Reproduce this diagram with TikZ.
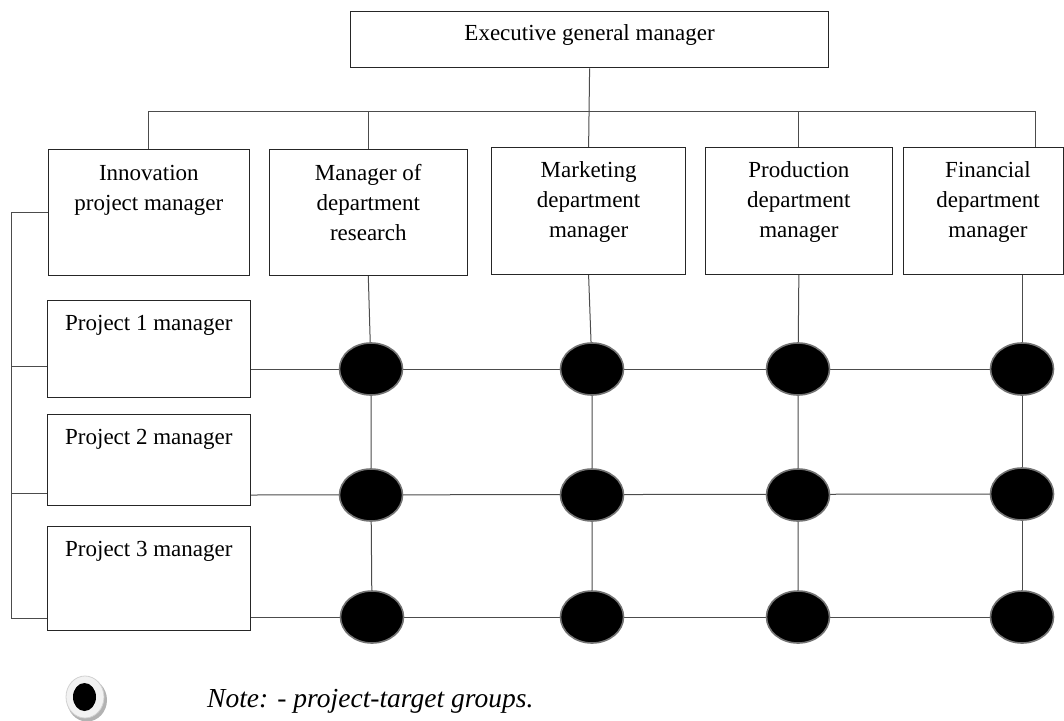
\documentclass[tikz,border=0pt]{standalone}
\usepackage{fontspec}
\setmainfont{Liberation Serif}
\usetikzlibrary{shapes.geometric}
\pgfdeclarelayer{bg}
\pgfsetlayers{bg,main}
\begin{document}
\begin{tikzpicture}[x=1pt,y=-1pt,
  box/.style={draw=black!85, line width=1.2pt, fill=white, inner sep=0pt, anchor=north west},
  lbl/.style={font=\fontsize{23}{30}\selectfont, align=center, inner sep=0pt, anchor=north},
  conn/.style={draw=black!70, line width=1pt},
  dot/.style={ellipse, fill=black, draw=black!55, line width=1.6pt, minimum width=63pt, minimum height=52pt, inner sep=0pt}]
\useasboundingbox (0,0) rectangle (1064,720);

% boxes
\node[box, minimum width=478pt, minimum height=56.5pt] (top) at (350,10.7) {};
\node[box, minimum width=201.5pt, minimum height=126pt] (inn) at (47.5,149) {};
\node[box, minimum width=198pt, minimum height=126pt] (res) at (268.7,149) {};
\node[box, minimum width=194pt, minimum height=127pt] (mkt) at (491,147) {};
\node[box, minimum width=186.5pt, minimum height=127pt] (prd) at (705,147) {};
\node[box, minimum width=160pt, minimum height=127pt] (fin) at (903,147) {};
\node[box, minimum width=202.5pt, minimum height=97pt] (p1) at (47,300) {};
\node[box, minimum width=202.5pt, minimum height=91pt] (p2) at (47,414) {};
\node[box, minimum width=202.5pt, minimum height=104pt] (p3) at (47,525.7) {};

% labels
\node[lbl] (topt) at ([yshift=-8.3pt]top.north) {\strut Executive general manager};
\node[lbl] (innt) at ([yshift=-10pt]inn.north) {\strut Innovation\\project manager};
\node[lbl] (rest) at ([yshift=-10pt]res.north) {\strut Manager of\\department\\research};
\node[lbl] (mktt) at ([yshift=-9pt]mkt.north) {\strut Marketing\\department\\manager};
\node[lbl] (prdt) at ([yshift=-9pt]prd.north) {\strut Production\\department\\manager};
\node[lbl] (fint) at (988,156) {\strut Financial\\department\\manager};
\node[lbl] (p1t) at ([yshift=-9.5pt]p1.north) {\strut Project 1 manager};
\node[lbl] (p2t) at ([yshift=-9.5pt]p2.north) {\strut Project 2 manager};
\node[lbl] (p3t) at ([yshift=-9.5pt]p3.north) {\strut Project 3 manager};

% target-group dots
\node[dot] (c11) at (371,369) {};
\node[dot] (c12) at (592,369) {};
\node[dot] (c13) at (798,369) {};
\node[dot] (c14) at (1022,369) {};
\node[dot] (c21) at (371,495) {};
\node[dot] (c22) at (592,495) {};
\node[dot] (c23) at (798,495) {};
\node[dot] (c24) at (1022,494) {};
\node[dot] (c31) at (372,617) {};
\node[dot] (c32) at (592,617) {};
\node[dot] (c33) at (798,617) {};
\node[dot] (c34) at (1022,617) {};

% bus coordinates
\coordinate (busL) at (148,111);
\coordinate (busR) at (1035,111);
\coordinate (lbA) at (11,212);
\coordinate (lb1) at (11,366);
\coordinate (lb2) at (11,493);
\coordinate (lbB) at (11,618);

\begin{pgfonlayer}{bg}
\draw[conn] (top.south) -- (mkt.north);
\draw[conn] (inn.north) -- (inn.north |- busL) -- (busR) -- (busR |- fin.north);
\draw[conn] (res.north) -- (res.north |- busL);
\draw[conn] (prd.north) -- (prd.north |- busL);
% columns
\draw[conn] (res.south) -- (c11.center) -- (c21.center) -- (c31.center);
\draw[conn] (mkt.south) -- (c12.center) -- (c22.center) -- (c32.center);
\draw[conn] (prd.south) -- (c13.center) -- (c23.center) -- (c33.center);
\draw[conn] (fin.south -| c14) -- (c14.center) -- (c24.center) -- (c34.center);
% rows
\draw[conn] (p1.east |- c11) -- (c14.center);
\draw[conn] (p2.east |- c21) -- (c24.center);
\draw[conn] (p3.east |- c31) -- (c34.center);
% left bus
\draw[conn] (inn.west |- lbA) -- (lbA) -- (lbB) -- (p3.west |- lbB);
\draw[conn] (lb1) -- (p1.west |- lb1);
\draw[conn] (lb2) -- (p2.west |- lb2);
\end{pgfonlayer}

% legend
\node[ellipse, fill=black!30, minimum width=40pt, minimum height=43pt, inner sep=0pt] (lgsh) at (87,700) {};
\node[ellipse, fill=black!5, draw=black!18, line width=0.8pt, minimum width=38pt, minimum height=42pt, inner sep=0pt] (lgring) at (85,697) {};
\node[ellipse, fill=black, minimum width=23pt, minimum height=28pt, inner sep=0pt] (lgdot) at (84.5,697) {};
\node[font=\fontsize{27.5}{30}\selectfont\itshape, anchor=base west, inner sep=0pt] (note) at (207,707) {Note: - project-target groups.};
\end{tikzpicture}
\end{document}
